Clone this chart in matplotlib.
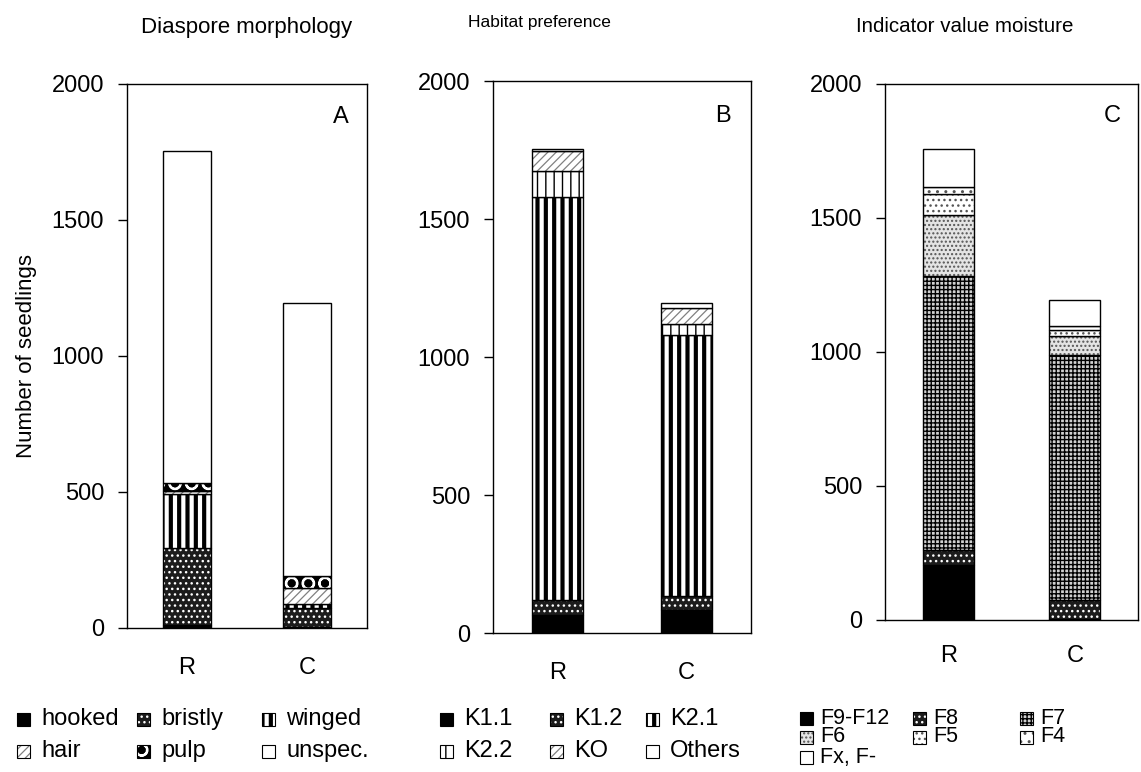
import matplotlib
matplotlib.use("Agg")
import matplotlib.pyplot as plt
from matplotlib.patches import Rectangle

plt.rcParams['font.family'] = ['Liberation Sans', 'DejaVu Sans']

W, H = 1141, 772

# Data (number of seedlings, R = restored, C = control)
groups = ['R', 'C']

# A: diaspore morphology
morph_labels = ['hooked', 'bristly', 'winged', 'hair', 'pulp', 'unspec.']
hooked = [10, 3]
bristly = [283, 70]
winged = [200, 15]
hair = [10, 58]
pulp = [31, 44]
unspec = [1221, 1005]

# B: habitat preference
habitat_labels = ['K1.1', 'K1.2', 'K2.1', 'K2.2', 'KO', 'Others']
k11 = [65, 83]
k12 = [55, 51]
k21 = [1460, 946]
k22 = [95, 40]
ko = [70, 57]
others = [10, 18]

# C: indicator value moisture
moist_labels = ['F9-F12', 'F8', 'F7', 'F6', 'F5', 'F4', 'Fx, F-']
f9_12 = [205, 3]
f8 = [55, 72]
f7 = [1025, 915]
f6 = [225, 70]
f5 = [78, 22]
f4 = [28, 15]
fx = [140, 96]

# fill styles: (facecolor, hatch, hatch colour, hatch linewidth)
SOLID = ('black', None, 'black', 1.0)
DARKDOT = ('#1c1c1c', '...', 'white', 1.0)
VBOLD = ('white', '||', 'black', 3.0)
VTHIN = ('white', '||', 'black', 1.0)
SLASH = ('white', '////', '#808080', 0.9)
PULP = ('black', 'O', 'white', 1.5)
PLAIN = ('white', None, 'black', 1.0)
CHECK = ('#d0d0d0', '++++', 'black', 1.0)
DOT6 = ('#e4e4e4', '....', '#555555', 1.0)
DOT5 = ('white', '...', '#555555', 1.0)
DOT4 = ('white', '..', '#555555', 1.0)

morph_styles = [SOLID, DARKDOT, VBOLD, SLASH, PULP, PLAIN]
habitat_styles = [SOLID, DARKDOT, VBOLD, VTHIN, SLASH, PLAIN]
moist_styles = [SOLID, DARKDOT, CHECK, DOT6, DOT5, DOT4, PLAIN]


def stacked(ax, series, styles):
    bottom = [0, 0]
    x = [0, 1]
    for vals, st in zip(series, styles):
        face, hatch, hcol, hlw = st
        with plt.rc_context({'hatch.linewidth': hlw}):
            ax.bar(x, vals, 0.4, bottom=bottom, color=face, edgecolor=hcol,
                   hatch=hatch, linewidth=0)
        ax.bar(x, vals, 0.4, bottom=bottom, fill=False, edgecolor='black',
               linewidth=1.0)
        bottom = [b + v for b, v in zip(bottom, vals)]


def setup(ax, letter, lx, ly, xpad):
    ax.set_xlim(-0.5, 1.5)
    ax.set_ylim(0, 2000)
    ax.set_yticks([0, 500, 1000, 1500, 2000])
    ax.set_xticks([0, 1], groups)
    ax.tick_params(axis='y', direction='out', length=6.5, width=1,
                   labelsize=17, pad=10)
    ax.tick_params(axis='x', length=0, labelsize=17, pad=xpad)
    for s in ax.spines.values():
        s.set_linewidth(1.0)
    ax.text(lx, ly, letter, transform=ax.transAxes, fontsize=17,
            ha='center', va='center')


def key(fig, entries, cols, rows, size=17, dx=24):
    # entries listed row-wise, cols = handle x (px), rows = centre y (px)
    for i, (label, st) in enumerate(entries):
        cx = cols[i % 3]
        cy = rows[i // 3]
        face, hatch, hcol, hlw = st
        with plt.rc_context({'hatch.linewidth': hlw}):
            r = Rectangle((cx / W, 1 - (cy + 6.5) / H), 13 / W, 13 / H,
                          transform=fig.transFigure, facecolor=face,
                          edgecolor=hcol, hatch=hatch, linewidth=0)
        fig.add_artist(r)
        fig.add_artist(Rectangle((cx / W, 1 - (cy + 6.5) / H), 13 / W, 13 / H,
                                 transform=fig.transFigure, fill=False,
                                 edgecolor='black', linewidth=0.8))
        fig.text((cx + dx) / W, 1 - cy / H, label, fontsize=size,
                 ha='left', va='center')


fig = plt.figure(figsize=(W / 100, H / 100), dpi=100)

axA = fig.add_axes([127 / W, 1 - 628 / H, 240 / W, 544 / H])
axB = fig.add_axes([493 / W, 1 - 633 / H, 258 / W, 552 / H])
axC = fig.add_axes([885 / W, 1 - 620 / H, 253 / W, 536 / H])

stacked(axA, [hooked, bristly, winged, hair, pulp, unspec], morph_styles)
stacked(axB, [k11, k12, k21, k22, ko, others], habitat_styles)
stacked(axC, [f9_12, f8, f7, f6, f5, f4, fx], moist_styles)

setup(axA, 'A', 0.89, 0.94, 21)
setup(axB, 'B', 0.89, 0.937, 21)
setup(axC, 'C', 0.90, 0.94, 18)

fig.text(27 / W, 0.5 - (356 - H / 2) / H, 'Number of seedlings', rotation=90,
         fontsize=16, ha='center', va='center')

fig.text(247 / W, 1 - 27 / H, 'Diaspore morphology', fontsize=16,
         ha='center', va='center')
fig.text(539 / W, 1 - 22 / H, 'Habitat preference', fontsize=12.5,
         ha='center', va='center')
fig.text(965 / W, 1 - 27 / H, 'Indicator value moisture', fontsize=14.8,
         ha='center', va='center')

key(fig, list(zip(morph_labels, morph_styles)), [17, 137, 262], [719, 751])
key(fig, list(zip(habitat_labels, habitat_styles)), [440, 550, 646], [719, 751])
key(fig, list(zip(moist_labels, moist_styles)), [800, 913, 1020],
    [718, 737, 757], size=15.5, dx=20)

fig.savefig('out.png', dpi=100)
